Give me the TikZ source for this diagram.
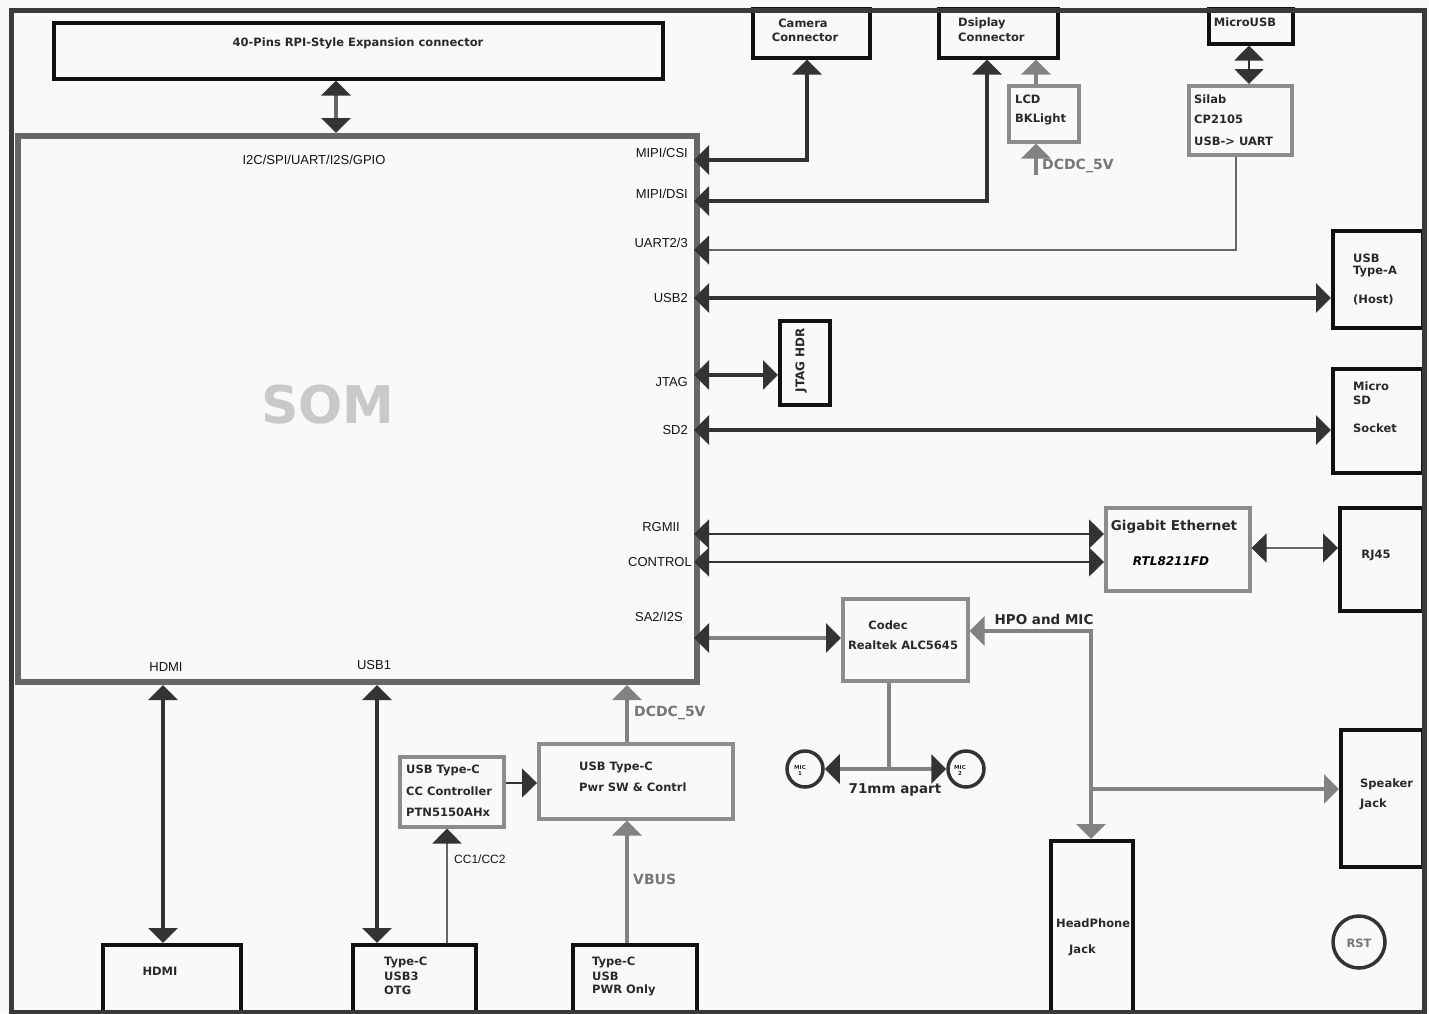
\documentclass[tikz,border=0pt]{standalone}
\usepackage{fontspec}
\setmainfont{DejaVu Sans}
\newfontfamily\lsans{Liberation Sans}
\usetikzlibrary{arrows.meta}
\definecolor{bg}{HTML}{F9F9F9}
\definecolor{fr}{HTML}{3A3A3A}
\definecolor{bk}{HTML}{111111}
\definecolor{dk}{HTML}{333333}
\definecolor{gy}{HTML}{828282}
\definecolor{gb}{HTML}{8C8C8C}
\definecolor{sg}{HTML}{676767}
\definecolor{tx}{HTML}{2A2A2A}
\definecolor{lg}{HTML}{C9C9C9}
\definecolor{gt}{HTML}{777777}
\tikzset{
  bbox/.style={draw=bk, line width=3.5pt, inner sep=0pt, anchor=north west, fill=bg},
  gbox/.style={draw=gb, line width=3.5pt, inner sep=0pt, anchor=north west, fill=bg},
  txt/.style={font=\fontsize{11.5}{13}\selectfont\bfseries, text=tx, inner sep=0pt},
  ltxt/.style={txt, anchor=west},
  gtxt/.style={font=\fontsize{14}{16}\selectfont\bfseries, text=gt, inner sep=0pt, anchor=west},
  pinl/.style={font=\lsans\fontsize{13}{15}\selectfont, text=black!92, inner sep=0pt, anchor=east},
  dkl/.style={draw=dk, line width=4pt},
  gyl/.style={draw=gy, line width=4pt},
  thl/.style={draw=dk, line width=1.5pt},
  tgl/.style={draw=sg, line width=1.5pt},
  tipD/.tip={Triangle[length=15pt,width=29pt,color=dk]},
  tipG/.tip={Triangle[length=15pt,width=29pt,color=gy]},
}
\begin{document}
\begin{tikzpicture}[x=1pt,y=-1pt]
\useasboundingbox (0,0) rectangle (1429,1013);
\fill[bg] (0,0) rectangle (1429,1013);

% ---------- boxes ----------
\node[draw=sg, line width=6pt, inner sep=0pt, anchor=north west, minimum width=679pt, minimum height=546pt, fill=bg] (som) at (15,133) {};
\node[bbox, minimum width=609pt, minimum height=56pt] (pin40) at (52,21) {};
\node[bbox, minimum width=117pt, minimum height=49pt] (cam) at (751,7) {};
\node[bbox, minimum width=119pt, minimum height=49pt] (disp) at (937,7) {};
\node[bbox, minimum width=84pt, minimum height=35pt] (musb) at (1207,7) {};
\node[gbox, minimum width=103pt, minimum height=69pt] (silab) at (1187,84) {};
\node[gbox, minimum width=70pt, minimum height=56pt] (lcd) at (1007,84) {};
\node[bbox, minimum width=90pt, minimum height=97pt] (typeA) at (1331,229) {};
\node[bbox, minimum width=50pt, minimum height=84pt] (jtag) at (778,319) {};
\node[bbox, minimum width=90pt, minimum height=104pt] (msd) at (1331,367) {};
\node[gbox, minimum width=144pt, minimum height=83pt] (geth) at (1104,506) {};
\node[bbox, minimum width=83pt, minimum height=103pt] (rj45) at (1338,506) {};
\node[gbox, minimum width=125pt, minimum height=82pt] (codec) at (841,597) {};
\node[bbox, minimum width=82pt, minimum height=137pt] (spk) at (1339,728) {};
\node[bbox, minimum width=82pt, minimum height=172pt] (hp) at (1049,839) {};
\node[gbox, minimum width=104pt, minimum height=70pt] (cc) at (398,755) {};
\node[gbox, minimum width=194pt, minimum height=75pt] (pwr) at (537,742) {};
\node[bbox, minimum width=138pt, minimum height=67pt] (hdmi) at (101,943) {};
\node[bbox, minimum width=123pt, minimum height=67pt] (otg) at (351,943) {};
\node[bbox, minimum width=124pt, minimum height=67pt] (pwronly) at (571,943) {};
\node[draw=dk, line width=3.5pt, circle, minimum size=36pt, inner sep=0pt, fill=bg] (mic1) at (805,769) {};
\node[draw=dk, line width=3.5pt, circle, minimum size=36pt, inner sep=0pt, fill=bg] (mic2) at (966,769) {};
\node[draw=dk, line width=3.5pt, circle, minimum size=52pt, inner sep=0pt, fill=bg] (rst) at (1359,942) {};

% ---------- coordinates ----------
\coordinate (k40) at (336,0);
\coordinate (pCSI) at (694,160);
\coordinate (kCSI) at (807,160);
\coordinate (pDSI) at (694,201);
\coordinate (kDSI) at (987,201);
\coordinate (kLCD) at (1036,0);
\coordinate (dcdcL) at (1036,175);
\coordinate (kMU) at (1249,0);
\coordinate (pUART) at (694,250);
\coordinate (kU) at (1236,250);
\coordinate (pUSB2) at (694,298);
\coordinate (pJTAG) at (694,375);
\coordinate (pSD2) at (694,430);
\coordinate (pRG) at (694,534);
\coordinate (pCT) at (694,562);
\coordinate (kE) at (0,548);
\coordinate (pSA) at (694,638);
\coordinate (kH) at (1091,631);
\coordinate (kS) at (1091,789);
\coordinate (kC) at (889,769);
\coordinate (kHD) at (163,0);
\coordinate (kU1) at (377,0);
\coordinate (kCC) at (447,0);
\coordinate (kP) at (0,783);
\coordinate (kD) at (627,0);

% ---------- connectors ----------
\draw[gyl, draw=sg, tipD-tipD] (pin40.south -| k40) -- (som.north -| k40);
\draw[dkl, tipD-tipD] (pCSI) -- (kCSI) -- (kCSI |- cam.south);
\draw[dkl, tipD-tipD] (pDSI) -- (kDSI) -- (kDSI |- disp.south);
\draw[gyl, -tipG] (lcd.north -| kLCD) -- (disp.south -| kLCD);
\draw[gyl, -tipG] (dcdcL) -- (lcd.south -| kLCD);
\draw[line width=2pt, draw=dk, tipD-tipD] (musb.south -| kMU) -- (silab.north -| kMU);
\draw[tgl, tipD-] (pUART) -- (kU) -- (kU |- silab.south);
\draw[dkl, tipD-tipD] (pUSB2) -- (pUSB2 -| typeA.west);
\draw[dkl, tipD-tipD] (pJTAG) -- (pJTAG -| jtag.west);
\draw[dkl, tipD-tipD] (pSD2) -- (pSD2 -| msd.west);
\draw[thl, tipD-tipD] (pRG) -- (pRG -| geth.west);
\draw[thl, tipD-tipD] (pCT) -- (pCT -| geth.west);
\draw[tgl, tipD-tipD] (geth.east |- kE) -- (rj45.west |- kE);
\draw[gyl, tipD-tipD] (pSA) -- (pSA -| codec.west);
\draw[gyl, tipG-tipG] (codec.east |- kH) -- (kH) -- (kH |- hp.north);
\draw[gyl, -tipG] (kS) -- (kS -| spk.west);
\draw[gyl] (kC |- codec.south) -- (kC);
\draw[gyl, tipD-tipD] (mic1.east |- kC) -- (mic2.west |- kC);
\draw[dkl, tipD-tipD] (som.south -| kHD) -- (hdmi.north -| kHD);
\draw[dkl, tipD-tipD] (som.south -| kU1) -- (otg.north -| kU1);
\draw[tgl, -tipD] (otg.north -| kCC) -- (cc.south -| kCC);
\draw[thl, -tipD] (cc.east |- kP) -- (pwr.west |- kP);
\draw[gyl, -tipG] (pwr.north -| kD) -- (som.south -| kD);
\draw[gyl, -tipG] (pwronly.north -| kD) -- (pwr.south -| kD);

% ---------- frame ----------
\node[draw=fr, line width=5pt, inner sep=0pt, anchor=north west, minimum width=1412.5pt, minimum height=1002.5pt] (board) at (9,7.5) {};

% ---------- texts ----------
\node[txt] (t40) at (358,43) {40-Pins RPI-Style Expansion connector};
\node[pinl, anchor=center] (tbus) at (314,160) {I2C/SPI/UART/I2S/GPIO};
\node[font=\fontsize{52}{60}\selectfont\bfseries, text=lg, inner sep=0pt] (tsom) at (328,405) {SOM};
\node[txt] (tcam1) at (803,23) {Camera};
\node[txt] (tcam2) at (805,37) {Connector};
\node[ltxt] (tdsp1) at (958,23) {Dsiplay};
\node[ltxt] (tdsp2) at (958,37) {Connector};
\node[txt] (tmusb) at (1245,22) {MicroUSB};
\node[ltxt] (tsil1) at (1194,99) {Silab};
\node[ltxt] (tsil2) at (1194,119) {CP2105};
\node[ltxt] (tsil3) at (1194,141) {USB-> UART};
\node[ltxt] (tlcd1) at (1015,99) {LCD};
\node[ltxt] (tlcd2) at (1015,119) {BKLight};
\node[gtxt] (tdc1) at (1042,166) {DCDC\_5V};
\node[pinl] (lcsi) at (688,153) {MIPI/CSI};
\node[pinl] (ldsi) at (688,194) {MIPI/DSI};
\node[pinl] (luart) at (688,243) {UART2/3};
\node[pinl] (lusb2) at (688,298) {USB2};
\node[pinl] (ljtag) at (688,382) {JTAG};
\node[pinl] (lsd2) at (688,430) {SD2};
\node[pinl] (lrg) at (680,527) {RGMII};
\node[pinl] (lct) at (692,562) {CONTROL};
\node[pinl] (lsa) at (683,617) {SA2/I2S};
\node[pinl, anchor=center] (lhdmi) at (166,667) {HDMI};
\node[pinl, anchor=center] (lusb1) at (374,665) {USB1};
\node[ltxt] (tta1) at (1353,258) {USB};
\node[ltxt] (tta2) at (1353,272) {Type-A};
\node[ltxt] (tta3) at (1353,300) {(Host)};
\node[txt, rotate=90, font=\fontsize{12}{14}\selectfont\bfseries] (tjtag) at (801,360) {JTAG HDR};
\node[ltxt] (tsd1) at (1353,386) {Micro};
\node[ltxt] (tsd2) at (1353,400) {SD};
\node[ltxt] (tsd3) at (1353,428) {Socket};
\node[txt, font=\fontsize{13.5}{15}\selectfont\bfseries] (tge1) at (1174,527) {Gigabit Ethernet};
\node[txt, font=\fontsize{12}{14}\selectfont\bfseries\itshape, text=black] (tge2) at (1171,561) {RTL8211FD};
\node[txt] (trj) at (1376,555) {RJ45};
\node[txt] (tcd1) at (888,625) {Codec};
\node[txt] (tcd2) at (903,645) {Realtek ALC5645};
\node[txt, font=\fontsize{13.5}{15}\selectfont\bfseries] (thpo) at (1044,619) {HPO and MIC};
\node[txt, font=\fontsize{13.5}{15}\selectfont\bfseries] (t71) at (895,790) {71mm apart};
\node[txt, font=\fontsize{5.5}{6}\selectfont\bfseries, align=center] (tm1) at (800,770) {MIC\\1};
\node[txt, font=\fontsize{5.5}{6}\selectfont\bfseries, align=center] (tm2) at (960,770) {MIC\\2};
\node[ltxt] (tspk1) at (1360,784) {Speaker};
\node[ltxt] (tspk2) at (1360,804) {Jack};
\node[ltxt] (thp1) at (1056,923) {HeadPhone};
\node[ltxt] (thp2) at (1069,950) {Jack};
\node[txt, text=gt] (trst) at (1359,943) {RST};
\node[ltxt] (tcc1) at (406,770) {USB Type-C};
\node[ltxt] (tcc2) at (406,791) {CC Controller};
\node[ltxt] (tcc3) at (406,812) {PTN5150AHx};
\node[ltxt] (tpw1) at (579,767) {USB Type-C};
\node[ltxt] (tpw2) at (579,787) {Pwr SW \& Contrl};
\node[gtxt] (tdc2) at (634,713) {DCDC\_5V};
\node[gtxt] (tvbus) at (633,879) {VBUS};
\node[pinl, anchor=west, font=\lsans\fontsize{12}{14}\selectfont] (tccl) at (454,859) {CC1/CC2};
\node[txt] (thd) at (160,971) {HDMI};
\node[ltxt] (tot1) at (384,962) {Type-C};
\node[ltxt] (tot2) at (384,976) {USB3};
\node[ltxt] (tot3) at (384,990) {OTG};
\node[ltxt] (tpo1) at (592,962) {Type-C};
\node[ltxt] (tpo2) at (592,976) {USB};
\node[ltxt] (tpo3) at (592,990) {PWR Only};
\end{tikzpicture}
\end{document}
